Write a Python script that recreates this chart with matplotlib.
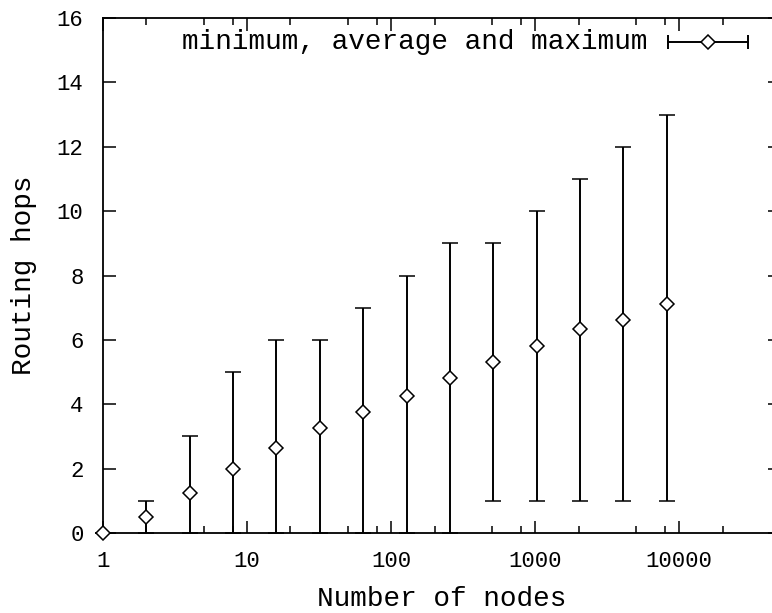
import numpy as np
import matplotlib
matplotlib.use("Agg")
import matplotlib.pyplot as plt
from matplotlib.ticker import LogLocator, FixedLocator, NullFormatter

# Данные: число узлов (степени двойки) и число хопов маршрутизации
nodes = [1, 2, 4, 8, 16, 32, 64, 128, 256, 512, 1024, 2048, 4096, 8192]
hops_avg = [0.0, 0.5, 1.25, 2.0, 2.64, 3.26, 3.76, 4.25, 4.81, 5.31, 5.81, 6.33, 6.61, 7.11]
hops_min = [0, 0, 0, 0, 0, 0, 0, 0, 0, 1, 1, 1, 1, 1]
hops_max = [0, 1, 3, 5, 6, 6, 7, 8, 9, 9, 10, 11, 12, 13]
y_ticks = [0, 2, 4, 6, 8, 10, 12, 14, 16]
x_major = [1, 10, 100, 1000, 10000]
x_labels = ["1", "10", "100", "1000", "10000"]
key_label = "minimum, average and maximum"

plt.rcParams['font.family'] = ['Liberation Mono', 'DejaVu Sans Mono']

fig = plt.figure(figsize=(7.72, 6.13), dpi=100)
ax = fig.add_axes([103 / 772, 80 / 613, 677 / 772, 515 / 613])

avg = np.array(hops_avg)
err = [avg - np.array(hops_min), np.array(hops_max) - avg]
ax.errorbar(nodes, avg, yerr=err, fmt='D', ms=7.5, mfc='white', mec='black',
            mew=1.1, ecolor='black', elinewidth=1.4, capsize=6, capthick=1.4,
            clip_on=False, zorder=3)

ax.set_xscale('log')
ax.set_xlim(1, 50000)
ax.set_ylim(0, 16)

ax.xaxis.set_major_locator(FixedLocator(x_major))
ax.set_xticks(x_major)
ax.set_xticklabels(x_labels)
ax.xaxis.set_minor_locator(LogLocator(base=10, subs=(2, 5, 8)))
ax.xaxis.set_minor_formatter(NullFormatter())
ax.set_yticks(y_ticks)

ax.tick_params(which='both', direction='in', top=True, right=True, width=1.1,
               labelsize=16)
ax.tick_params(which='major', length=9)
ax.tick_params(which='minor', length=5)
ax.tick_params(axis='y', pad=14)
ax.tick_params(axis='x', pad=13)

for s in ax.spines.values():
    s.set_linewidth(1.3)

ax.set_xlabel("Number of nodes", fontsize=20, labelpad=10)
ax.set_ylabel("Routing hops", fontsize=20, labelpad=14)

# Ключ легенды в стиле gnuplot
ax.text(0.805, 0.953, key_label, transform=ax.transAxes, ha='right',
        va='center', fontsize=20)
ax.plot([0.835, 0.953], [0.953, 0.953], transform=ax.transAxes, color='black',
        lw=1.4, marker='|', ms=10, mew=1.4, markevery=[0, 1])
ax.plot([0.894], [0.953], transform=ax.transAxes, marker='D', ms=7.5,
        mfc='white', mec='black', mew=1.1, ls='none')

fig.savefig("out.png", dpi=100)
